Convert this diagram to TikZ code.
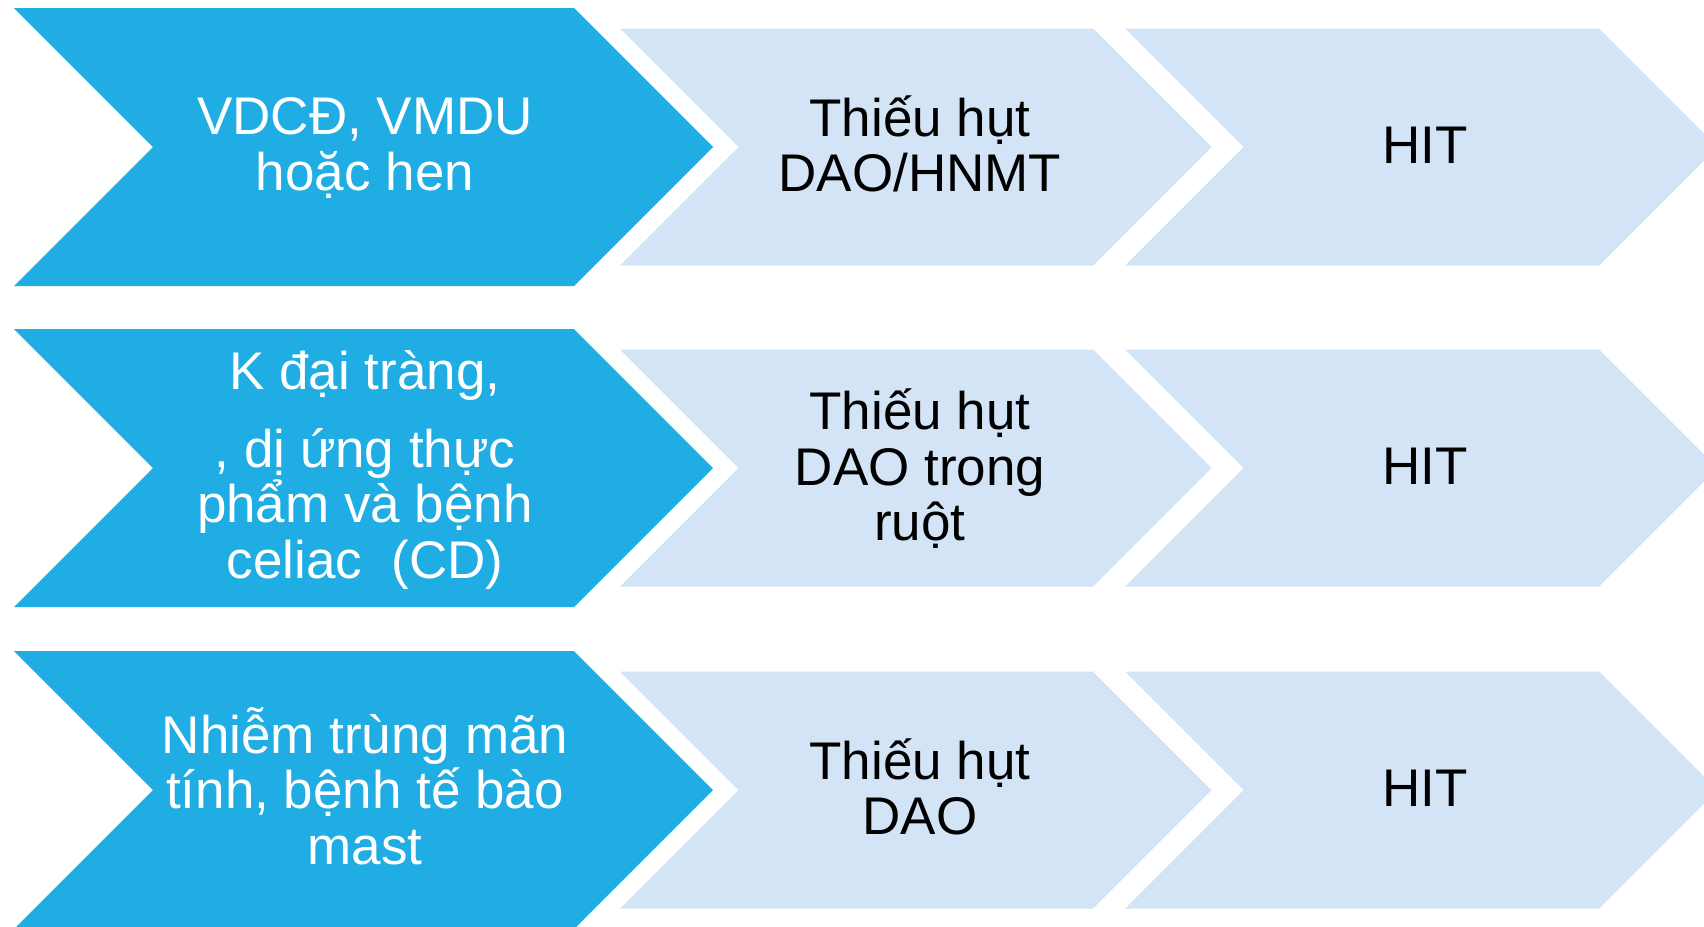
\documentclass[tikz,border=0pt]{standalone}
\usepackage{fontspec}
\setmainfont{Liberation Sans}
\definecolor{causeblue}{RGB}{31,173,228}
\definecolor{stepblue}{RGB}{210,228,245}

% chevron: left edge, right edge of body, half height, centre y, colour
\newcommand\drawchev[5]{%
  \fill[#5] (#1,#4-#3) -- (#2,#4-#3) -- (#2+#3,#4) -- (#2,#4+#3)
            -- (#1,#4+#3) -- (#1+#3,#4) -- cycle;}

\begin{document}
\begin{tikzpicture}[
  x=0.5pt, y=-0.5pt,
  txt/.style   ={font=\fontsize{26.5}{27.7}\selectfont, align=center, inner sep=0pt},
  cause/.style ={txt, text=white},
  effect/.style={txt, text=black},
]
% page is 1704 x 927 px, y runs down
\clip (0,0) rectangle (1704,927);

% ==================================================== the three rows of arrows
\foreach \cy in {147,468,790}{
  \drawchev{14}{574}{139}{\cy}{causeblue}
  \drawchev{620}{1093}{118.5}{\cy}{stepblue}
  \drawchev{1125}{1599}{118.5}{\cy}{stepblue}
}

% ==================================================== row 1
\node[cause]  (cause1) at (365,148)  {VDCĐ, VMDU\\hoặc hen};
\node[effect] (lack1)  at (920,144)  {Thiếu hụt\\DAO/HNMT};
\node[effect] (hit1)   at (1425,145) {HIT};

% ==================================================== row 2
\node[cause]  (cause2) at (365,470)
  {K đại tràng,\\[11pt], dị ứng thực\\phẩm và bệnh\\celiac\ \ (CD)};
\node[effect] (lack2)  at (920,469)  {Thiếu hụt\\DAO trong\\ruột};
\node[effect] (hit2)   at (1425,466) {HIT};

% ==================================================== row 3
\node[cause]  (cause3) at (365,786)
  {Nhiễm trùng mãn\\tính, bệnh tế bào\\mast};
\node[effect] (lack3)  at (920,787)  {Thiếu hụt\\DAO};
\node[effect] (hit3)   at (1425,788) {HIT};

\end{tikzpicture}
\end{document}
